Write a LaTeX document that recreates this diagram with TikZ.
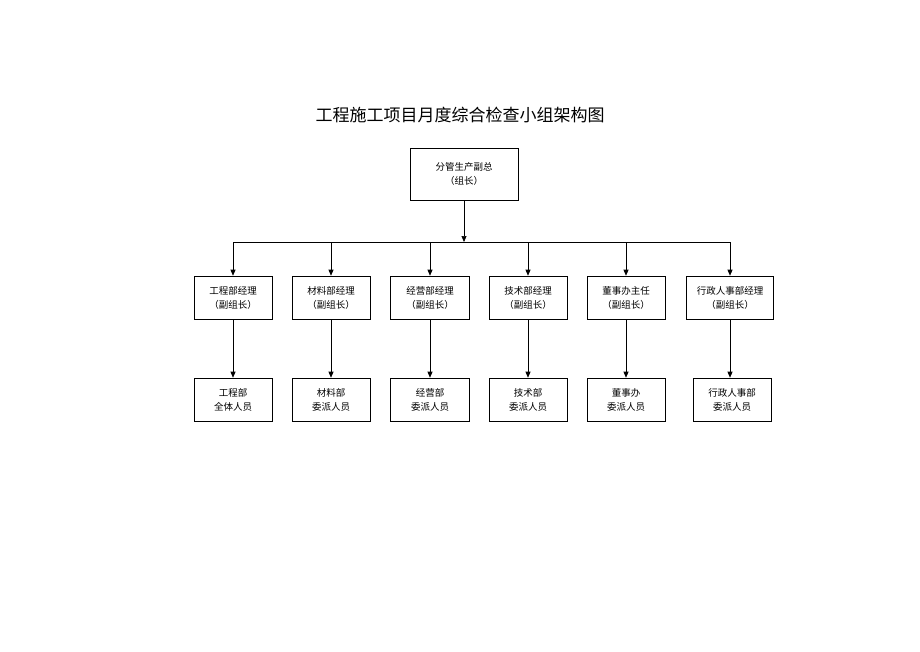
\documentclass[tikz,border=0pt]{standalone}
\usepackage{fontspec}
\newfontfamily\cjk{Noto Sans CJK SC}
\usetikzlibrary{arrows.meta}
\begin{document}
\begin{tikzpicture}[x=1pt,y=-1pt,
  box/.style={draw,line width=0.6pt,minimum height=43pt,align=center,font=\cjk\fontsize{9.5}{14}\selectfont,inner sep=1pt},
  arr/.style={draw,line width=0.7pt,-{Triangle[length=6pt,width=5pt]}}]
\useasboundingbox (0,0) rectangle (920,651);
\node[font=\cjk\fontsize{17}{20}\selectfont] (title) at (460,115) {工程施工项目月度综合检查小组架构图};
\node[box,minimum width=108pt,minimum height=52pt] (top) at (464,174) {分管生产副总\\（组长）};
\coordinate (bus) at (464,242);
\foreach \i/\x/\w/\t/\bx/\bw/\b in {
 1/233/78/{工程部经理\\（副组长）}/233/78/{工程部\\全体人员},
 2/331/78/{材料部经理\\（副组长）}/331/78/{材料部\\委派人员},
 3/430/79/{经营部经理\\（副组长）}/430/79/{经营部\\委派人员},
 4/528/78/{技术部经理\\（副组长）}/528/78/{技术部\\委派人员},
 5/626/78/{董事办主任\\（副组长）}/626/78/{董事办\\委派人员},
 6/730/87/{行政人事部经理\\（副组长）}/732/78/{行政人事部\\委派人员}}{
  \node[box,minimum width=\w pt] (m\i) at (\x,297.5) {\t};
  \node[box,minimum width=\bw pt] (b\i) at (\bx,399.5) {\b};
  \coordinate (j\i) at (\x,242);
  \draw[arr] (j\i) -- (m\i.north);
  \draw[arr] (m\i.south) -- (m\i.south |- b\i.north);
}
\draw[line width=0.7pt] (j1) -- (j6);
\draw[arr] (top.south) -- (bus);
\end{tikzpicture}
\end{document}
